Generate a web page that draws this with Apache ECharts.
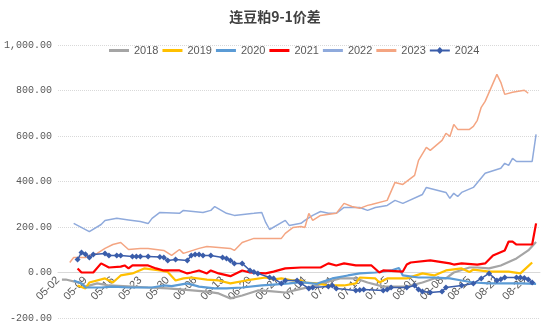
<!DOCTYPE html>
<html>
<head>
<meta charset="utf-8">
<script src="https://cdn.jsdelivr.net/npm/echarts@6/dist/echarts.min.js"></script>
<style>html,body{margin:0;padding:0;background:#fff;}#c{width:550px;height:330px;}</style>
</head>
<body>
<div id="c"></div>
<script>
// Category dates: 05-02 .. 09-02
const startMonthDay = [5, 2];
const endMonthDay = [9, 2];
const categories = [];
(function(){
  const d = new Date(2024, startMonthDay[0]-1, startMonthDay[1]);
  const e = new Date(2024, endMonthDay[0]-1, endMonthDay[1]);
  while (d <= e) {
    const m = String(d.getMonth()+1).padStart(2,'0');
    const dd = String(d.getDate()).padStart(2,'0');
    categories.push(m + '-' + dd);
    d.setDate(d.getDate()+1);
  }
})();

const seriesNames = ['2018','2019','2020','2021','2022','2023','2024'];
const yTicks = [-200, 0, 200, 400, 600, 800, 1000];

const s2018 = [['05-03',-31],['05-04',-31],['05-08',-48],['05-09',-62],['05-12',-48],['05-15',-57],['05-21',-62],['05-25',-66],['05-30',-70],['06-03',-75],['06-09',-84],['06-12',-92],['06-15',-114],['06-18',-101],['06-22',-79],['06-25',-82],['06-29',-88],['07-03',-72],['07-07',-57],['07-11',-35],['07-13',-26],['07-17',-26],['07-20',-44],['07-24',-62],['07-27',-62],['07-30',-62],['08-03',-44],['08-06',-26],['08-09',-26],['08-11',0],['08-15',22],['08-17',22],['08-20',18],['08-23',31],['08-27',62],['08-30',97],['09-01',134]];
const s2019 = [['05-07',-57],['05-09',-70],['05-10',-44],['05-14',-26],['05-16',-44],['05-18',-13],['05-21',-4],['05-24',18],['05-28',9],['05-30',2],['06-01',-35],['06-03',-26],['06-05',-22],['06-09',-31],['06-12',-35],['06-15',-48],['06-19',-35],['06-24',-22],['06-26',-30],['06-28',-26],['07-01',-35],['07-03',-35],['07-04',-44],['07-07',-48],['07-10',-57],['07-14',-57],['07-17',-48],['07-18',-22],['07-22',-26],['07-23',-44],['07-25',-26],['07-30',-26],['08-03',-4],['08-06',-13],['08-09',9],['08-13',18],['08-15',2],['08-16',13],['08-20',4],['08-25',4],['08-28',-4],['08-30',28],['08-31',44]];
const s2020 = [['05-06',-35],['05-08',-48],['05-09',-66],['05-13',-66],['05-16',-62],['05-20',-66],['05-26',-66],['05-29',-57],['05-31',-60],['06-04',-48],['06-07',-62],['06-11',-70],['06-14',-70],['06-18',-66],['06-23',-57],['06-26',-53],['06-30',-48],['07-03',-42],['07-07',-50],['07-11',-26],['07-15',-13],['07-18',-4],['07-22',0],['07-26',9],['07-28',20],['07-29',-13],['08-02',-22],['08-06',-22],['08-10',-26],['08-13',-35],['08-16',-44],['08-20',-48],['08-25',-48],['08-28',-48],['09-01',-50]];
const s2021 = [['05-07',18],['05-08',0],['05-11',0],['05-13',40],['05-15',22],['05-18',26],['05-19',31],['05-20',18],['05-21',31],['05-25',31],['05-27',18],['05-29',9],['06-02',9],['06-04',-4],['06-05',0],['06-07',9],['06-09',-4],['06-10',9],['06-12',-4],['06-15',-16],['06-18',9],['06-20',0],['06-24',-4],['06-26',4],['06-29',18],['07-03',22],['07-08',22],['07-10',40],['07-12',31],['07-14',40],['07-17',31],['07-21',31],['07-23',0],['07-24',9],['07-29',4],['07-30',35],['07-31',44],['08-05',53],['08-10',40],['08-11',35],['08-13',40],['08-17',35],['08-19',40],['08-21',75],['08-24',97],['08-25',136],['08-26',136],['08-27',123],['08-31',123],['09-01',216]];
const s2022 = [['05-06',216],['05-10',180],['05-13',211],['05-14',229],['05-17',238],['05-20',231],['05-23',224],['05-25',215],['05-26',238],['05-28',264],['06-02',260],['06-03',273],['06-08',264],['06-10',273],['06-11',290],['06-14',260],['06-16',251],['06-21',260],['06-23',264],['06-24',220],['06-25',189],['06-29',229],['06-30',207],['07-03',216],['07-04',229],['07-06',251],['07-08',268],['07-10',260],['07-12',260],['07-14',286],['07-18',286],['07-20',273],['07-22',286],['07-25',295],['07-27',317],['07-29',304],['08-03',343],['08-04',374],['08-09',352],['08-10',326],['08-11',348],['08-12',334],['08-13',352],['08-16',374],['08-19',436],['08-23',458],['08-24',480],['08-25',471],['08-26',502],['08-27',488],['08-31',488],['09-01',607]];
const s2023 = [['05-05',44],['05-06',66],['05-09',66],['05-10',75],['05-12',84],['05-14',106],['05-16',123],['05-18',132],['05-20',101],['05-23',106],['05-25',106],['05-29',97],['05-31',75],['06-02',101],['06-03',84],['06-07',106],['06-09',114],['06-12',110],['06-15',106],['06-16',97],['06-18',132],['06-21',150],['06-28',150],['06-29',172],['07-01',198],['07-03',202],['07-04',198],['07-05',260],['07-06',229],['07-08',251],['07-12',260],['07-14',304],['07-16',290],['07-18',282],['07-20',295],['07-21',299],['07-25',317],['07-27',396],['07-29',387],['08-01',427],['08-02',493],['08-04',550],['08-05',537],['08-08',581],['08-09',612],['08-10',598],['08-11',651],['08-12',629],['08-15',629],['08-16',642],['08-17',669],['08-18',726],['08-19',752],['08-22',871],['08-23',836],['08-24',783],['08-26',792],['08-29',801],['08-30',788]];
const s2024 = [['05-07',57],['05-08',88],['05-09',80],['05-10',66],['05-11',79],['05-14',84],['05-15',75],['05-17',75],['05-18',75],['05-21',70],['05-22',70],['05-23',70],['05-25',70],['05-28',68],['05-29',66],['05-30',53],['06-01',57],['06-04',53],['06-05',75],['06-06',79],['06-07',79],['06-08',75],['06-10',75],['06-13',66],['06-14',62],['06-15',53],['06-16',40],['06-18',40],['06-20',9],['06-21',2],['06-22',-4],['06-25',-22],['06-26',-26],['06-28',-48],['06-29',-35],['07-02',-35],['07-03',-48],['07-05',-70],['07-06',-66],['07-10',-62],['07-11',-57],['07-12',-70],['07-17',-79],['07-18',-77],['07-19',-75],['07-24',-79],['07-25',-75],['07-26',-66],['07-30',-66],['08-01',-57],['08-02',-75],['08-03',-84],['08-05',-88],['08-08',-84],['08-09',-66],['08-13',-57],['08-16',-48],['08-18',-26],['08-20',-4],['08-22',-35],['08-23',-30],['08-24',-22],['08-27',-22],['08-28',-22],['08-29',-24],['08-30',-31],['08-31',-44]];

const seriesData = [s2018, s2019, s2020, s2021, s2022, s2023, s2024];
const colors = ['#A5A5A5','#FFC000','#5B9BD5','#FF0000','#8FAADC','#F4A582','#3A5DAA'];
const widths = [2.2, 2.2, 2.2, 2.2, 1.5, 1.5, 1.5];

const lineIcon = 'path://M0,0.01H0.01V0.02H0Z M0,3.6H20V6.4H0Z M19.99,9.98H20V10H19.99Z';
const markerIcon = 'path://M0,0.01H0.01V0.02H0Z M0,4H20V6H0Z M10,1.6L13.4,5L10,8.4L6.6,5Z M19.99,9.98H20V10H19.99Z';

const chart = echarts.init(document.getElementById('c'), null, {renderer:'canvas'});
const series = seriesNames.map((n,i)=>({
  name: n,
  type: 'line',
  data: seriesData[i],
  symbol: i === 6 ? 'diamond' : 'none',
  symbolSize: i === 6 ? 6 : 0,
  showSymbol: i === 6,
  showAllSymbol: true,
  lineStyle: {color: colors[i], width: widths[i]},
  itemStyle: {color: colors[i]},
  z: 2 + i,
  animation: false
}));

chart.setOption({
  animation: false,
  color: colors,
  title: {
    text: '连豆粕9-1价差',
    left: 'center',
    top: 5,
    textStyle: {fontFamily: 'Noto Sans CJK SC', fontSize: 14, fontWeight: 'bold', color: '#404040'}
  },
  legend: {
    data: seriesNames.map((n,i)=>({name: n, icon: i === 6 ? markerIcon : lineIcon})),
    top: 40,
    left: 104,
    itemWidth: 20,
    itemHeight: 10,
    itemGap: 4,
    textStyle: {fontFamily: 'Liberation Sans', fontSize: 11, color: '#595959'}
  },
  grid: {left: 58, right: 10, top: 45, bottom: 12, containLabel: false, outerBoundsMode: 'none'},
  xAxis: {
    type: 'category',
    data: categories,
    boundaryGap: false,
    offset: -45.5,
    axisLine: {onZero: false, lineStyle: {color: '#D9D9D9', width: 1}},
    axisTick: {show: false},
    axisLabel: {rotate: 45, interval: 6, margin: 6, color: '#595959', fontSize: 11, fontFamily: 'Liberation Sans'},
    splitLine: {show: false}
  },
  yAxis: {
    type: 'value',
    min: yTicks[0],
    max: yTicks[yTicks.length-1],
    interval: 200,
    axisLine: {show: false},
    axisTick: {show: false},
    axisLabel: {
      color: '#595959', fontSize: 10, fontFamily: 'Liberation Mono', margin: 6,
      formatter: v => v.toLocaleString('en-US', {minimumFractionDigits: 2, maximumFractionDigits: 2})
    },
    splitLine: {lineStyle: {color: '#D9D9D9', type: 'dotted', width: 1}}
  },
  series: series
});
</script>
</body>
</html>
